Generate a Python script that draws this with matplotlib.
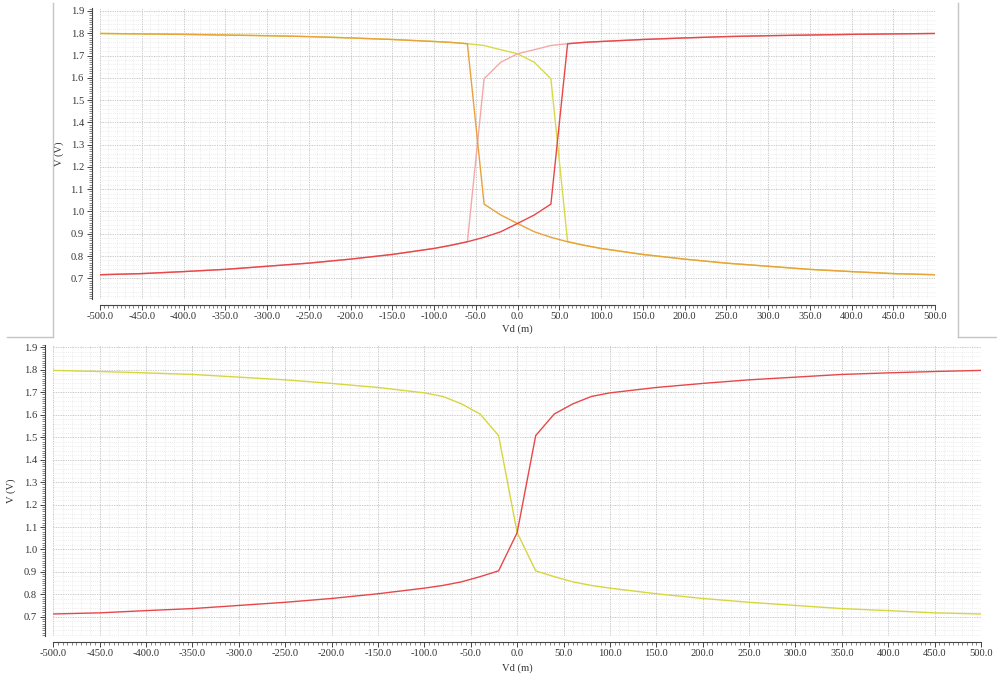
import matplotlib
matplotlib.use('Agg')
import matplotlib.pyplot as plt
import numpy as np
from matplotlib.ticker import MultipleLocator, FormatStrFormatter
from matplotlib.lines import Line2D

plt.rcParams['axes.unicode_minus'] = False

# ---------------- data ----------------
vd = [-500, -450, -400, -350, -300, -250, -200, -150, -100, -80, -60, -40, -20, 0,
      20, 40, 60, 80, 100, 150, 200, 250, 300, 350, 400, 450, 500]

top_yellow = [1.799, 1.797, 1.795, 1.792, 1.789, 1.785, 1.779, 1.772, 1.763, 1.759, 1.753,
              1.745, 1.726, 1.708, 1.670, 1.596,
              0.864, 0.848, 0.834, 0.807, 0.786, 0.768, 0.754, 0.740, 0.730, 0.721, 0.716]
top_red = [0.716, 0.721, 0.730, 0.740, 0.754, 0.768, 0.786, 0.807, 0.834, 0.848, 0.864,
           0.884, 0.909, 0.946, 0.984, 1.033,
           1.753, 1.759, 1.763, 1.772, 1.779, 1.785, 1.789, 1.792, 1.795, 1.797, 1.799]
top_orange = [1.799, 1.797, 1.795, 1.792, 1.789, 1.785, 1.779, 1.772, 1.763, 1.759, 1.753,
              1.033, 0.984, 0.946, 0.909, 0.884,
              0.864, 0.848, 0.834, 0.807, 0.786, 0.768, 0.754, 0.740, 0.730, 0.721, 0.716]
top_pink = [0.716, 0.721, 0.730, 0.740, 0.754, 0.768, 0.786, 0.807, 0.834, 0.848, 0.864,
            1.596, 1.670, 1.708, 1.726, 1.745,
            1.753, 1.759, 1.763, 1.772, 1.779, 1.785, 1.789, 1.792, 1.795, 1.797, 1.799]

bot_red = [0.713, 0.718, 0.728, 0.737, 0.751, 0.765, 0.782, 0.803, 0.828, 0.840, 0.856,
           0.879, 0.905, 1.075, 1.507, 1.603,
           1.648, 1.681, 1.697, 1.721, 1.739, 1.755, 1.767, 1.779, 1.786, 1.792, 1.797]
bot_yellow = [1.797, 1.792, 1.786, 1.779, 1.767, 1.755, 1.739, 1.721, 1.697, 1.681, 1.648,
              1.603, 1.507, 1.075, 0.905, 0.879,
              0.856, 0.840, 0.828, 0.803, 0.782, 0.765, 0.751, 0.737, 0.728, 0.718, 0.713]

x_label = 'Vd (m)'
y_label = 'V (V)'

# ---------------- figure ----------------
W, H = 997, 677
fig = plt.figure(figsize=(W / 100, H / 100), dpi=100)
fig.patch.set_facecolor('white')

def px_rect(l, r, t, b):
    return [l / W, 1 - b / H, (r - l) / W, (b - t) / H]

ax1 = fig.add_axes(px_rect(100, 935, 8.3, 299))
ax2 = fig.add_axes(px_rect(53.3, 981, 345, 636))

FONT = 'Liberation Serif'
TXT = '#333333'

def style(ax, ylim, ylab_x, xlab_y):
    ax.set_xlim(-500, 500)
    ax.set_ylim(*ylim)
    ax.set_facecolor('white')
    for s in ['top', 'right']:
        ax.spines[s].set_visible(False)
    ax.spines['left'].set_position(('outward', 6))
    ax.spines['bottom'].set_position(('outward', 4))
    for s in ['left', 'bottom']:
        ax.spines[s].set_color('#444444')
        ax.spines[s].set_linewidth(0.8)
    ax.xaxis.set_major_locator(MultipleLocator(50))
    ax.xaxis.set_minor_locator(MultipleLocator(5))
    ax.yaxis.set_major_locator(MultipleLocator(0.1))
    ax.yaxis.set_minor_locator(MultipleLocator(0.01))
    ax.xaxis.set_major_formatter(FormatStrFormatter('%.1f'))
    ax.yaxis.set_major_formatter(FormatStrFormatter('%.1f'))
    ax.tick_params(which='major', length=3.6, width=0.7, color='#444444',
                   labelsize=7.6, labelcolor=TXT, pad=2)
    ax.tick_params(which='minor', length=2.2, width=0.5, color='#555555')
    for lab in ax.get_xticklabels() + ax.get_yticklabels():
        lab.set_fontfamily(FONT)
    # minor grid
    for xv in np.arange(-500, 501, 10):
        ax.axvline(xv, color='#e6e6e6', lw=0.6, ls=(0, (1, 1.5)), zorder=0)
    for yv in np.arange(0.6, 1.93, 0.02):
        ax.axhline(yv, color='#e6e6e6', lw=0.6, ls=(0, (1, 1.5)), zorder=0)
    ax.grid(which='major', color='#c4c4c4', lw=0.7, ls=(0, (1, 1.5)), zorder=0.5)
    ax.set_axisbelow(True)
    ax.set_xlabel(x_label, fontsize=7.6, family=FONT, color=TXT)
    ax.set_ylabel(y_label, fontsize=7.6, family=FONT, color=TXT)
    ax.xaxis.set_label_coords(0.5, xlab_y)
    ax.yaxis.set_label_coords(ylab_x, 0.5)

style(ax1, (0.607, 1.912), -0.043, -0.086)
style(ax2, (0.615, 1.910), -0.040, -0.095)

LW = 1.0
ax1.plot(vd, top_yellow, color='#d9d948', lw=LW, zorder=3)
ax1.plot(vd, top_pink, color='#f2a9a9', lw=LW, zorder=3)
ax1.plot(vd, top_orange, color='#e9a13b', lw=LW, zorder=4)
ax1.plot(vd, top_red, color='#e8474a', lw=LW, zorder=4)

ax2.plot(vd, bot_yellow, color='#d6d640', lw=LW, zorder=3)
ax2.plot(vd, bot_red, color='#e8474a', lw=LW, zorder=4)

# window frame lines around top panel
def fline(x0, y0, x1, y1):
    fig.add_artist(Line2D([x0 / W, x1 / W], [1 - y0 / H, 1 - y1 / H],
                          color='#c4c4c4', lw=1.0, transform=fig.transFigure))

fline(53.3, 2.7, 53.3, 337.3)
fline(6.7, 337.3, 53.3, 337.3)
fline(958, 2.7, 958, 337.3)
fline(958, 337.3, 997, 337.3)

fig.savefig('out.png', dpi=100, facecolor='white')
